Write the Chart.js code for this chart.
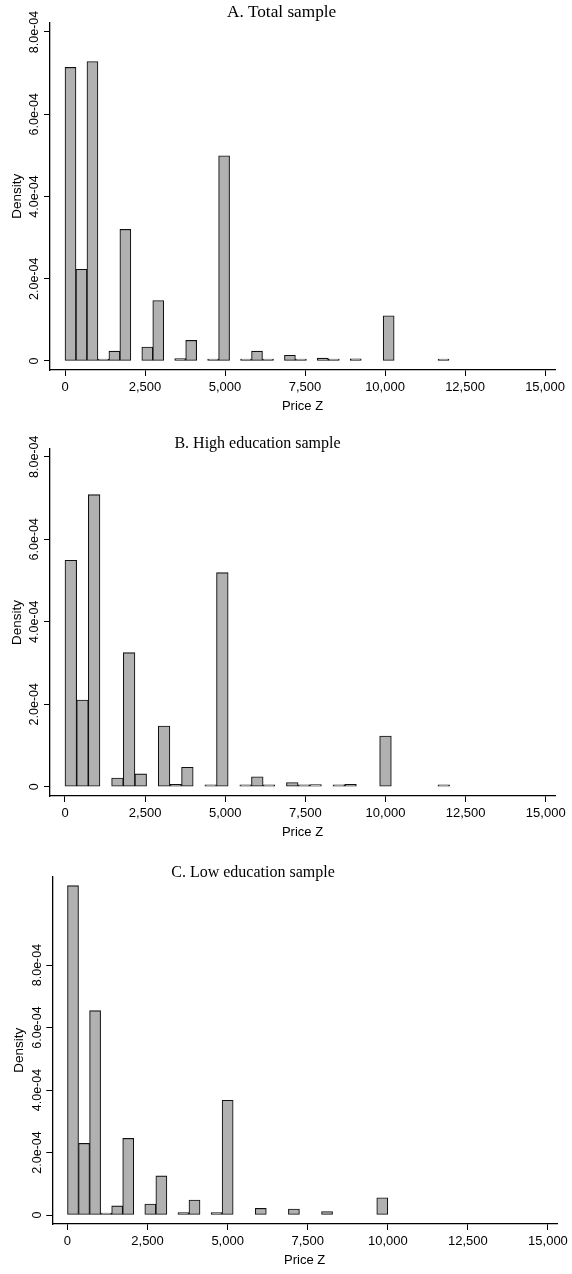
<!DOCTYPE html>
<html>
<head>
<meta charset="utf-8">
<script src="https://cdn.jsdelivr.net/npm/chart.js@4.4.1/dist/chart.umd.min.js"></script>
<style>
  html, body { margin: 0; padding: 0; background: #fff; }
  body { width: 572px; height: 1274px; position: relative; overflow: hidden; }
  .panel { position: absolute; left: 0; width: 572px; }
  .title {
    position: absolute;
    font-family: "Liberation Serif", "Times New Roman", serif;
    color: #000;
    white-space: nowrap;
    transform: translate(-50%, -50%);
    line-height: 1;
  }
</style>
</head>
<body>
<div class="panel" style="top:0;height:420px"><canvas id="chartA"></canvas></div>
<div class="panel" style="top:420px;height:430px"><canvas id="chartB"></canvas></div>
<div class="panel" style="top:850px;height:424px"><canvas id="chartC"></canvas></div>

<div class="title" style="left:281.7px;top:11.5px;font-size:17.25px">A. Total sample</div>
<div class="title" style="left:257.5px;top:443px;font-size:16px">B. High education sample</div>
<div class="title" style="left:253px;top:871.5px;font-size:16px">C. Low education sample</div>

<script>
// histogram densities, one value per bin (bins start at 0)
const densA = [
  7.14e-4, 2.23e-4, 7.28e-4, 0.02e-4, 0.24e-4, 3.2e-4, 0, 0.34e-4, 1.47e-4, 0,
  0.06e-4, 0.5e-4, 0, 0.02e-4, 4.99e-4, 0, 0.01e-4, 0.24e-4, 0.02e-4, 0,
  0.14e-4, 0.03e-4, 0, 0.07e-4, 0.03e-4, 0, 0.05e-4, 0, 0, 1.1e-4,
  0, 0, 0, 0, 0.01e-4,
];
const densB = [
  5.49e-4, 2.1e-4, 7.08e-4, 0, 0.21e-4, 3.25e-4, 0.31e-4, 0, 1.47e-4, 0.06e-4,
  0.47e-4, 0, 0.02e-4, 5.19e-4, 0, 0.01e-4, 0.24e-4, 0.03e-4, 0, 0.1e-4,
  0.03e-4, 0.05e-4, 0, 0.04e-4, 0.06e-4, 0, 0, 1.23e-4, 0, 0,
  0, 0, 0.01e-4,
];
const densC = [
  10.54e-4, 2.29e-4, 6.54e-4, 0.02e-4, 0.29e-4, 2.45e-4, 0, 0.35e-4, 1.25e-4, 0,
  0.08e-4, 0.48e-4, 0, 0.08e-4, 3.67e-4, 0, 0, 0.21e-4, 0, 0,
  0.19e-4, 0, 0, 0.11e-4, 0, 0, 0, 0, 0.55e-4,
];
// upper edge of the last bin in each sample
const binMaxA = 12000;
const binMaxB = 12000;
const binMaxC = 10000;

const xTickValues = [0, 2500, 5000, 7500, 10000, 12500, 15000];
const xTickLabels = ["0", "2,500", "5,000", "7,500", "10,000", "12,500", "15,000"];
const yTickValues = [0, 2e-4, 4e-4, 6e-4, 8e-4];
const yTickLabels = ["0", "2.0e-04", "4.0e-04", "6.0e-04", "8.0e-04"];

const sansFont = "'Liberation Sans', Arial, sans-serif";

// y tick labels are drawn turned, reading upwards
const rotatedYTicks = {
  id: "rotatedYTicks",
  afterDraw(chart) {
    const { ctx, chartArea, scales } = chart;
    ctx.save();
    ctx.font = "12.5px " + sansFont;
    ctx.fillStyle = "#000";
    ctx.textAlign = "center";
    ctx.textBaseline = "middle";
    yTickValues.forEach((v, i) => {
      const py = scales.y.getPixelForValue(v);
      ctx.save();
      ctx.translate(chartArea.left - 15, py);
      ctx.rotate(-Math.PI / 2);
      ctx.fillText(yTickLabels[i], 0, 0);
      ctx.restore();
    });
    ctx.restore();
  },
};

function createHistogram(canvasId, dens, binMax, frame) {
  const binWidth = binMax / dens.length;
  return new Chart(document.getElementById(canvasId), {
    type: "bar",
    data: {
      datasets: [
        {
          data: dens.map((d, i) => ({ x: (i + 0.5) * binWidth, y: d === 0 ? null : d })),
          backgroundColor: "#b1b1b1",
          borderColor: "#111",
          borderWidth: 1.1,
          borderSkipped: false,
          barPercentage: 1,
          categoryPercentage: 1,
          minBarLength: 2,
        },
      ],
    },
    options: {
      responsive: true,
      maintainAspectRatio: false,
      animation: false,
      events: [],
      layout: { padding: { top: frame.top, left: 0, right: frame.right, bottom: 0 } },
      plugins: { legend: { display: false }, tooltip: { enabled: false } },
      scales: {
        x: {
          type: "linear",
          position: "bottom",
          min: frame.xMin,
          max: frame.xMax,
          offset: false,
          afterBuildTicks: (s) => { s.ticks = xTickValues.map((v) => ({ value: v })); },
          afterFit: (s) => { s.height = frame.height - frame.bottom; },
          ticks: {
            autoSkip: false,
            maxRotation: 0,
            padding: 3.9,
            color: "#000",
            font: { family: sansFont, size: 13 },
            callback: (v, i) => xTickLabels[i],
          },
          grid: { offset: false, drawOnChartArea: false, drawTicks: true, tickLength: 6, color: "#000", lineWidth: 1 },
          border: { display: true, color: "#000", width: 1.3 },
          title: {
            display: true,
            text: "Price Z",
            color: "#000",
            font: { family: sansFont, size: 13 },
            padding: { top: 0, bottom: frame.priceGap },
          },
        },
        y: {
          type: "linear",
          min: frame.yMin,
          max: frame.yMax,
          afterBuildTicks: (s) => { s.ticks = yTickValues.map((v) => ({ value: v })); },
          afterFit: (s) => { s.width = frame.left; },
          ticks: { display: false },
          grid: { drawOnChartArea: false, drawTicks: true, tickLength: 6, color: "#000", lineWidth: 1 },
          border: { display: true, color: "#000", width: 1.3 },
          title: {
            display: true,
            text: "Density",
            color: "#000",
            font: { family: sansFont, size: 13.5 },
            padding: { top: frame.densityGap, bottom: 0 },
          },
        },
      },
    },
    plugins: [rotatedYTicks],
  });
}

createHistogram("chartA", densA, binMaxA, {
  height: 420, top: 22.7, bottom: 370, left: 50, right: 17,
  xMin: -469, xMax: 15312, yMin: -0.219e-4, yMax: 8.226e-4,
  priceGap: 5.5, densityGap: 9.4,
});
createHistogram("chartB", densB, binMaxB, {
  height: 430, top: 29, bottom: 376, left: 50, right: 17,
  xMin: -468, xMax: 15289, yMin: -0.225e-4, yMax: 8.187e-4,
  priceGap: 9.5, densityGap: 9.4,
});
createHistogram("chartC", densC, binMaxC, {
  height: 424, top: 26.7, bottom: 374, left: 52.3, right: 14.3,
  xMin: -474, xMax: 15285, yMin: -0.288e-4, yMax: 10.826e-4,
  priceGap: 5.5, densityGap: 11.4,
});
</script>
</body>
</html>
